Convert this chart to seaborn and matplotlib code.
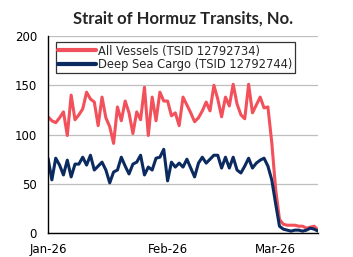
import matplotlib
matplotlib.use("Agg")
import matplotlib.pyplot as plt
import matplotlib.dates as mdates
import seaborn as sns
import pandas as pd

all_vessels = [118, 114, 112, 117, 123, 99, 140, 115, 120, 126, 143, 136, 133, 109, 138, 117,
               108, 91, 128, 114, 134, 122, 101, 123, 115, 148, 99, 138, 114, 143, 134, 134,
               119, 122, 109, 138, 130, 122, 113, 117, 124, 133, 124, 150, 136, 118, 138, 129,
               151, 131, 120, 116, 151, 122, 130, 138, 127, 128, 92, 45, 14, 9, 8, 8, 8, 7, 7,
               5, 6, 7, 3]
deep_sea = [76, 54, 76, 69, 59, 74, 57, 70, 70, 77, 69, 79, 64, 68, 72, 64, 51, 62, 64, 77,
            68, 60, 70, 72, 79, 59, 67, 64, 76, 77, 85, 53, 72, 67, 71, 67, 75, 66, 57, 71,
            77, 71, 75, 79, 79, 66, 77, 66, 77, 64, 61, 68, 76, 66, 71, 74, 76, 68, 54, 30,
            7, 4, 3, 2, 3, 3, 2, 3, 5, 4, 2]
series_names = ["All Vessels (TSID 12792734)", "Deep Sea Cargo (TSID 12792744)"]
start_date = "2026-01-01"
title = "Strait of Hormuz Transits, No."

n = min(len(all_vessels), len(deep_sea))
dates = pd.date_range(start_date, periods=n, freq="D")
df = pd.DataFrame({
    "date": list(dates) * 2,
    "value": all_vessels[:n] + deep_sea[:n],
    "series": [series_names[0]] * n + [series_names[1]] * n,
})

sns.set_theme(style="white")
plt.rcParams["font.family"] = ["DejaVu Sans"]

fig = plt.figure(figsize=(3.53, 2.57), dpi=100)
ax = fig.add_axes([0.136, 0.093, 0.765, 0.767])
sns.lineplot(data=df, x="date", y="value", hue="series",
             palette=["#F2505A", "#0B2B60"], linewidth=2.2, ax=ax)

ax.set_ylim(0, 200)
ax.set_yticks([0, 50, 100, 150, 200])
ax.set_xlim(dates[0], dates[-1])
ax.xaxis.set_major_locator(mdates.MonthLocator())
ax.xaxis.set_major_formatter(mdates.DateFormatter("%b-%y"))
ax.grid(axis="y", color="#BFBFBF", linewidth=0.9)
ax.set_axisbelow(True)
for s in ["top", "right"]:
    ax.spines[s].set_visible(False)
for s in ["left", "bottom"]:
    ax.spines[s].set_color("black")
    ax.spines[s].set_linewidth(1.0)
ax.tick_params(axis="both", length=0, labelsize=8.5, colors="black")
ax.tick_params(axis="x", pad=7)
ax.tick_params(axis="y", pad=8)
ax.set_xlabel("")
ax.set_ylabel("")

leg = ax.legend(loc="upper left", bbox_to_anchor=(0.02, 0.98), fontsize=8.3,
                frameon=True, fancybox=False, borderpad=0.2, labelspacing=0.05,
                handlelength=3.3, handletextpad=0.2, borderaxespad=0.2)
leg.get_frame().set_edgecolor("black")
leg.get_frame().set_linewidth(0.9)
for line in leg.get_lines():
    line.set_linewidth(3)

fig.suptitle(title, fontsize=12, fontweight="bold", x=0.52, y=0.96,
             family=["Lato", "DejaVu Sans"])
fig.savefig("out.png", dpi=100)
